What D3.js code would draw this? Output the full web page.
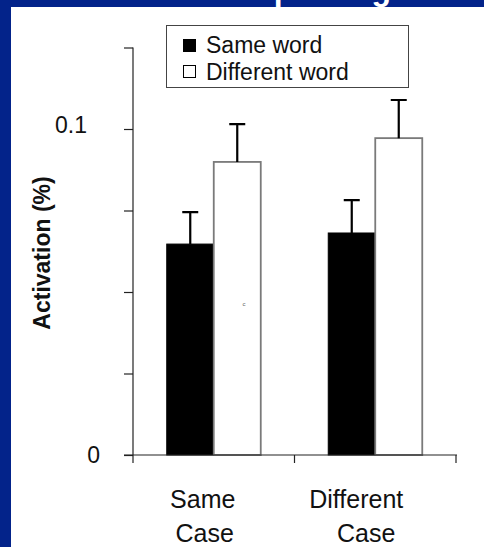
<!DOCTYPE html>
<html>
<head>
<meta charset="utf-8">
<script src="https://cdn.jsdelivr.net/npm/d3@7"></script>
<style>
  html, body { margin: 0; padding: 0; background: #fff; }
  svg { display: block; font-family: Arial, "Liberation Sans", sans-serif; }
</style>
</head>
<body>
<svg id="chart" width="484" height="547"></svg>
<script>
// Conditions on the x axis (each label drawn on two lines)
const categories = ["Same Case", "Different Case"];
const categoryLines = [["Same", "Case"], ["Different", "Case"]];
// Word conditions (legend series)
const series = ["Same word", "Different word"];
// Mean activation per case condition, one array per word condition
const sameWordValues = [0.0647, 0.0681];
const differentWordValues = [0.0899, 0.0972];
// Error bar half-lengths
const sameWordErrors = [0.0098, 0.0101];
const differentWordErrors = [0.0116, 0.0117];
// Y ticks and the ones that carry a label
const yTicks = [0, 0.025, 0.05, 0.075, 0.1, 0.125];
const yTickLabels = { 0: "0", 0.1: "0.1" };

const svg = d3.select("#chart");

// Slide frame: navy band with the title, white panel over it
svg.append("rect").attr("x", 0).attr("y", 0).attr("width", 484).attr("height", 547).attr("fill", "#03238a");
svg.append("text")
  .attr("x", 391).attr("y", 0)
  .attr("text-anchor", "end")
  .attr("fill", "#fff")
  .attr("font-weight", "bold")
  .attr("font-size", 32)
  .text("Masked priming");
svg.append("rect").attr("x", 11).attr("y", 7).attr("width", 473).attr("height", 540).attr("fill", "#fff");

const y = d3.scaleLinear().domain([0, 0.125]).range([455, 47.5]);
const x0 = d3.scaleBand().domain(categories).range([133, 456]).padding(0);
const x1 = d3.scaleBand().domain(series).range([33.75, x0.bandwidth() - 33.75]).padding(0);

const rows = categories.map((c, i) => ({
  category: c,
  bars: [
    { key: series[0], value: sameWordValues[i], err: sameWordErrors[i] },
    { key: series[1], value: differentWordValues[i], err: differentWordErrors[i] }
  ]
}));

// Y axis
const yAxis = svg.append("g")
  .attr("transform", "translate(133,0)")
  .call(d3.axisLeft(y).tickValues(yTicks).tickSize(9).tickPadding(0).tickFormat(""));
yAxis.select(".domain").attr("stroke", "#222").attr("stroke-width", 1.2).attr("d", `M0,${y(0.125)}V${y(0)}`);
yAxis.selectAll(".tick line").attr("stroke", "#222").attr("stroke-width", 1.2);

// Y tick labels
const yLabelPos = { 0: { x: 100, dy: 8 }, 0.1: { x: 87, dy: 4 } };
svg.append("g").selectAll("text")
  .data(yTicks.filter(t => yTickLabels[t] !== undefined))
  .join("text")
  .attr("x", d => yLabelPos[d].x)
  .attr("y", d => y(d) + yLabelPos[d].dy)
  .attr("text-anchor", "end")
  .attr("font-size", 23)
  .attr("fill", "#111")
  .text(d => yTickLabels[d]);

// Y title
svg.append("text")
  .attr("transform", `translate(50,253) rotate(-90)`)
  .attr("text-anchor", "middle")
  .attr("font-weight", "bold")
  .attr("font-size", 23)
  .attr("fill", "#111")
  .text("Activation (%)");

// Bars
const groups = svg.append("g").selectAll("g")
  .data(rows)
  .join("g")
  .attr("transform", d => `translate(${x0(d.category)},0)`);

groups.selectAll("rect")
  .data(d => d.bars)
  .join("rect")
  .attr("x", d => x1(d.key))
  .attr("y", d => y(d.value))
  .attr("width", x1.bandwidth())
  .attr("height", d => y(0) - y(d.value))
  .attr("fill", (d, i) => i === 0 ? "#000" : "#fff")
  .attr("stroke", (d, i) => i === 0 ? "#000" : "#7a7a7a")
  .attr("stroke-width", (d, i) => i === 0 ? 1 : 1.8);

// Error bars (upper only)
groups.selectAll("path.err")
  .data(d => d.bars)
  .join("path")
  .attr("class", "err")
  .attr("fill", "none")
  .attr("stroke", "#000")
  .attr("stroke-width", 2.2)
  .attr("d", d => {
    const cx = x1(d.key) + x1.bandwidth() / 2;
    const top = y(d.value + d.err);
    return `M${cx},${y(d.value)}V${top}M${cx - 8},${top}H${cx + 8}`;
  });

// X axis
const xAxisG = svg.append("g").attr("transform", `translate(0,${y(0)})`);
xAxisG.append("path")
  .attr("d", "M124,0H457")
  .attr("stroke", "#222").attr("stroke-width", 1.2);
const xTickPos = [x0.range()[0], x0(categories[1]), x0.range()[1]];
xAxisG.selectAll("line.tick")
  .data(xTickPos)
  .join("line")
  .attr("x1", d => d).attr("x2", d => d)
  .attr("y1", 0).attr("y2", 8)
  .attr("stroke", "#222").attr("stroke-width", 1.2);

// Category labels
const labelNudge = [[-11, -9], [-19, -9]];
categories.forEach((c, i) => {
  const cx = x0(c) + x0.bandwidth() / 2;
  categoryLines[i].forEach((line, j) => {
    svg.append("text")
      .attr("x", cx + labelNudge[i][j])
      .attr("y", 508 + j * 34)
      .attr("text-anchor", "middle")
      .attr("font-size", 25)
      .attr("fill", "#111")
      .text(line);
  });
});

// Stray marker inside the first white bar
svg.append("text")
  .attr("x", 244)
  .attr("y", 306)
  .attr("text-anchor", "middle")
  .attr("font-size", 6)
  .attr("fill", "#666")
  .text("c");

// Legend
const legend = svg.append("g");
legend.append("rect")
  .attr("x", 166.5).attr("y", 25.5).attr("width", 242).attr("height", 62)
  .attr("fill", "#fff").attr("stroke", "#444").attr("stroke-width", 1);
series.forEach((s, i) => {
  legend.append("rect")
    .attr("x", 183.5).attr("y", 39.5 + i * 26).attr("width", 12).attr("height", 12)
    .attr("fill", i === 0 ? "#000" : "#fff")
    .attr("stroke", "#000").attr("stroke-width", 1);
  legend.append("text")
    .attr("x", 206).attr("y", 53 + i * 27)
    .attr("font-size", 23)
    .attr("fill", "#111")
    .text(s);
});
</script>
</body>
</html>
